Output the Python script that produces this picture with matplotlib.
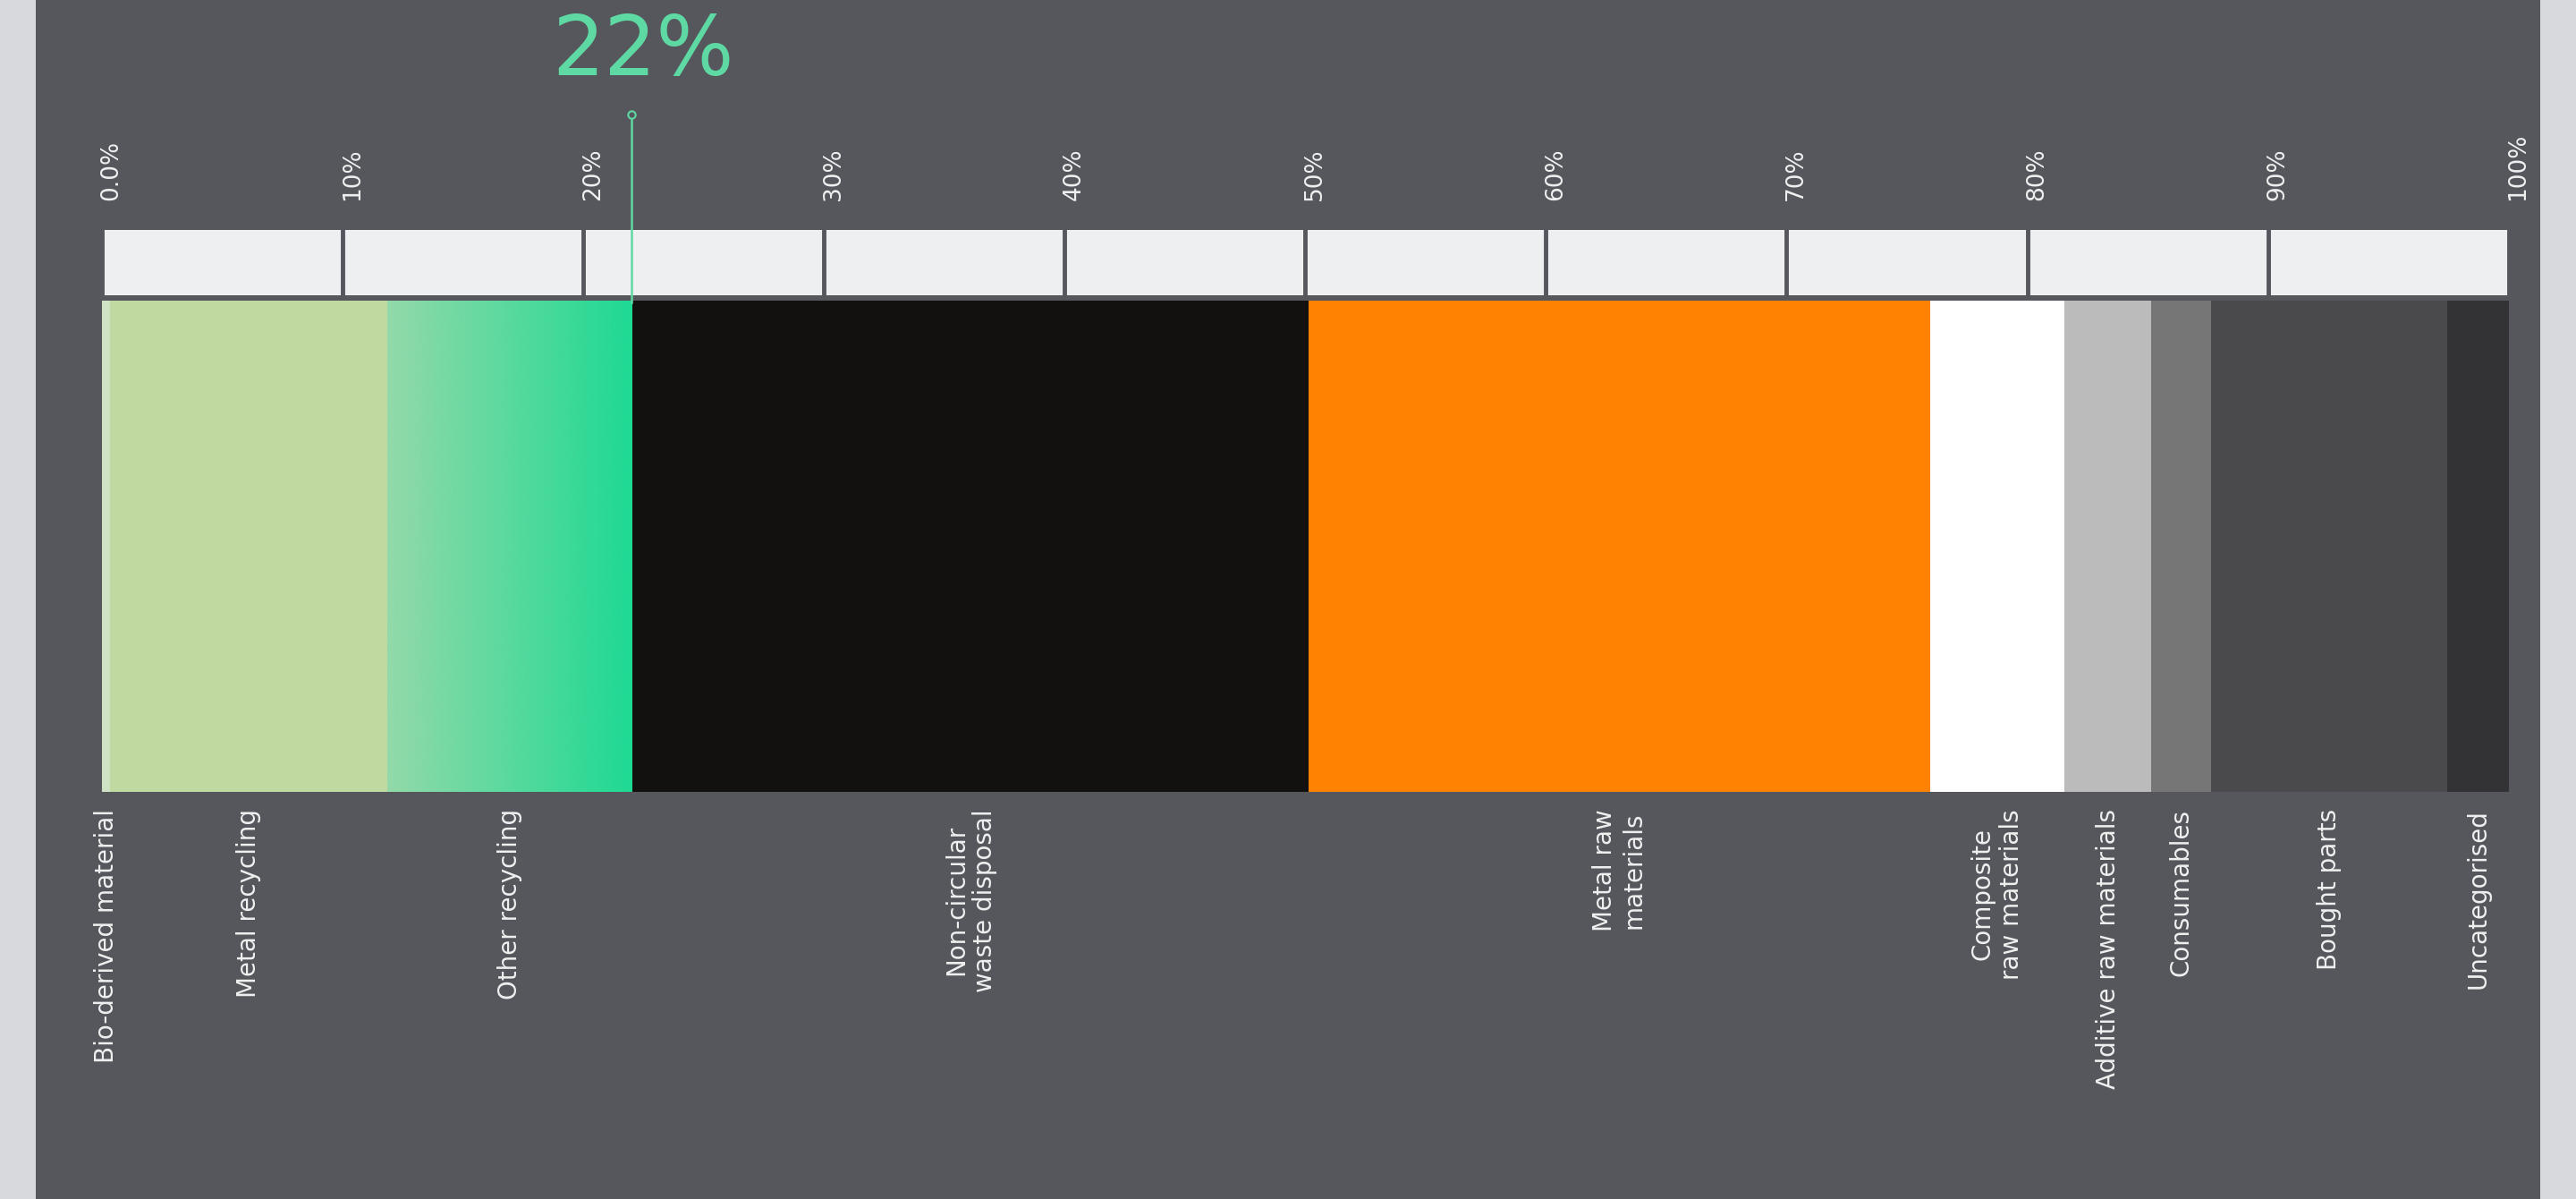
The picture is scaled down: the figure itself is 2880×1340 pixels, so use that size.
import numpy as np
import matplotlib
matplotlib.use("Agg")
import matplotlib.pyplot as plt
from matplotlib.colors import LinearSegmentedColormap
from matplotlib.patches import Rectangle

categories = ["Bio-derived material", "Metal recycling", "Other recycling",
              "Non-circular\nwaste disposal", "Metal raw\nmaterials",
              "Composite\nraw materials", "Additive raw materials",
              "Consumables", "Bought parts", "Uncategorised"]
shares = [0.35, 11.5, 10.2, 28.1, 25.8, 5.6, 3.6, 2.5, 9.8, 2.55]
colors = ["#cfe3c4", "#bfd9a0", None, "#131110", "#ff8200", "#ffffff",
          "#bbbbbc", "#767677", "#4a4a4c", "#333335"]
grad_start, grad_end = "#93d9a9", "#1ed993"
tick_values = [0, 10, 20, 30, 40, 50, 60, 70, 80, 90, 100]
tick_labels = ["0.0%", "10%", "20%", "30%", "40%", "50%", "60%", "70%", "80%", "90%", "100%"]
highlight_value = 22
highlight_label = "22%"

W, H = 1568, 730
fig = plt.figure(figsize=(28.8, 13.4), dpi=100)
fig.patch.set_facecolor("#d8d9dc")
fig.add_artist(Rectangle((22 / W, 0), 1524 / W, 1, transform=fig.transFigure,
                         facecolor="#55575c", edgecolor="none", zorder=0))

def fx(px): return px / W
def fy(py): return 1 - py / H

left, right = 62, 1527
ax = fig.add_axes([fx(left), fy(482), (right - left) / W, (482 - 183) / H])
ax.set_xlim(0, 100); ax.set_ylim(0, 1); ax.axis("off")
start = 0
for i, (c, s) in enumerate(zip(colors, shares)):
    if c is None:
        cmap = LinearSegmentedColormap.from_list("g", [grad_start, grad_end])
        ax.imshow(np.linspace(0, 1, 256)[None, :], cmap=cmap, aspect="auto",
                  extent=[start, start + s, 0, 1], zorder=2)
    else:
        ax.bar(start, 1, width=s, align="edge", color=c, linewidth=0, zorder=2)
    ax.text(start + s / 2, -0.035, categories[i], rotation=90, ha="center", va="top",
            color="#f0f0f0", fontsize=20, multialignment="center",
            transform=ax.transData, clip_on=False)
    start += s

rx = fig.add_axes([fx(left), fy(180), (right - left) / W, 40 / H])
rx.set_xlim(0, 100); rx.set_ylim(0, 1); rx.axis("off")
rx.bar(0, 1, width=100, align="edge", color="#eeeff1", linewidth=0)
for v, lab in zip(tick_values, tick_labels):
    rx.plot([v, v], [0, 1], color="#55575c", lw=3.5, clip_on=False)
    rx.text(v + 0.4, 1.45, lab, rotation=90, ha="center", va="bottom",
            color="#f0f0f0", fontsize=19)
rx.plot([highlight_value, highlight_value], [-0.1, 2.75], color="#5fd9a3", lw=1.8, clip_on=False)
rx.plot([highlight_value], [2.75], marker="o", ms=6, mfc="#55575c", mec="#5fd9a3", mew=1.5, clip_on=False)
rx.text(highlight_value + 0.5, 3.1, highlight_label, ha="center", va="bottom",
        fontsize=66, color="#5fd9a3")

fig.savefig("out.png", dpi=100, facecolor=fig.get_facecolor())
